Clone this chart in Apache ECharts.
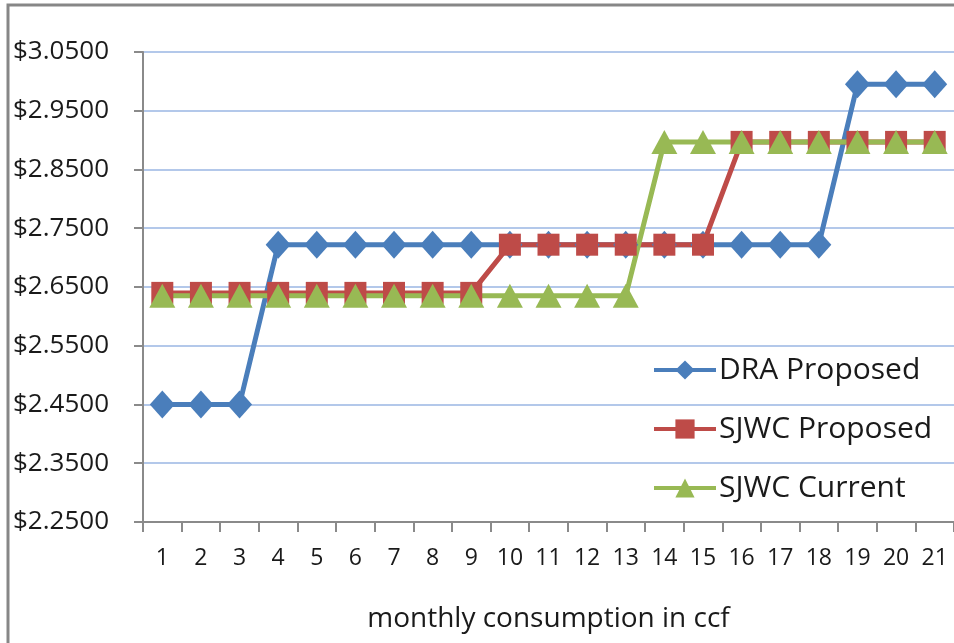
<!DOCTYPE html>
<html>
<head>
<meta charset="utf-8">
<script src="https://cdn.jsdelivr.net/npm/echarts@6/dist/echarts.min.js"></script>
<style>
html,body{margin:0;padding:0;background:#fff;}
#chart{width:954px;height:643px;}
</style>
</head>
<body>
<div id="chart"></div>
<script>
var categories = ['1','2','3','4','5','6','7','8','9','10','11','12','13','14','15','16','17','18','19','20','21'];
var draProposed = [2.45,2.45,2.45,2.722,2.722,2.722,2.722,2.722,2.722,2.722,2.722,2.722,2.722,2.722,2.722,2.722,2.722,2.722,2.995,2.995,2.995];
var sjwcProposed = [2.64,2.64,2.64,2.64,2.64,2.64,2.64,2.64,2.64,2.722,2.722,2.722,2.722,2.722,2.722,2.897,2.897,2.897,2.897,2.897,2.897];
var sjwcCurrent = [2.635,2.635,2.635,2.635,2.635,2.635,2.635,2.635,2.635,2.635,2.635,2.635,2.635,2.897,2.897,2.897,2.897,2.897,2.897,2.897,2.897];
var seriesNames = ['DRA Proposed','SJWC Proposed','SJWC Current'];
var xAxisTitle = 'monthly consumption in ccf';

var FONT = '"Open Sans", "Noto Sans", sans-serif';
var chart = echarts.init(document.getElementById('chart'), null, {renderer:'canvas'});
function mk(name, data, color, symbol, size){
  return {
    name: name, type: 'line', data: data,
    symbol: symbol, symbolSize: size, showSymbol: true,
    lineStyle: {color: color, width: 5},
    itemStyle: {color: color},
    animation: false
  };
}
chart.setOption({
  animation: false,
  backgroundColor: '#fff',
  graphic: [{
    type: 'rect', silent: true, z: 100,
    shape: {x: 8, y: 5, width: 1000, height: 800},
    style: {fill: 'none', stroke: '#878787', lineWidth: 3}
  }],
  grid: {left: 143, top: 52, width: 815, height: 470, containLabel: false},
  legend: {
    orient: 'vertical', left: 647, top: 350,
    itemWidth: 62, itemHeight: 24, itemGap: 29,
    lineStyle: {width: 4},
    textStyle: {fontFamily: FONT, fontSize: 30, color: '#1a1a1a', padding: [0, 0, 0, -2]},
    data: seriesNames
  },
  xAxis: {
    type: 'category', data: categories, boundaryGap: true,
    name: xAxisTitle, nameLocation: 'middle', nameGap: 83,
    nameTextStyle: {fontFamily: FONT, fontSize: 28, color: '#1a1a1a'},
    axisLine: {lineStyle: {color: '#8a8a8a', width: 2}},
    axisTick: {show: true, length: 10, lineStyle: {color: '#8a8a8a', width: 2}},
    axisLabel: {fontFamily: FONT, fontSize: 23, color: '#1a1a1a', margin: 25, interval: 0},
    splitLine: {show: false}
  },
  yAxis: {
    type: 'value', min: 2.25, max: 3.05, interval: 0.1,
    axisLine: {show: true, lineStyle: {color: '#8a8a8a', width: 2}},
    axisTick: {show: true, length: 9, lineStyle: {color: '#8a8a8a', width: 2}},
    axisLabel: {
      fontFamily: FONT, fontSize: 26, color: '#1a1a1a', margin: 34,
      formatter: function(v){ return '$' + v.toFixed(4); }
    },
    splitLine: {show: true, lineStyle: {color: '#b3c8ea', width: 2}}
  },
  series: [
    mk(seriesNames[0], draProposed, '#4a7ebb', 'diamond', [25, 28]),
    mk(seriesNames[1], sjwcProposed, '#be4b48', 'rect', 22),
    mk(seriesNames[2], sjwcCurrent, '#98b954', 'triangle', [26, 24])
  ]
});
</script>
</body>
</html>
